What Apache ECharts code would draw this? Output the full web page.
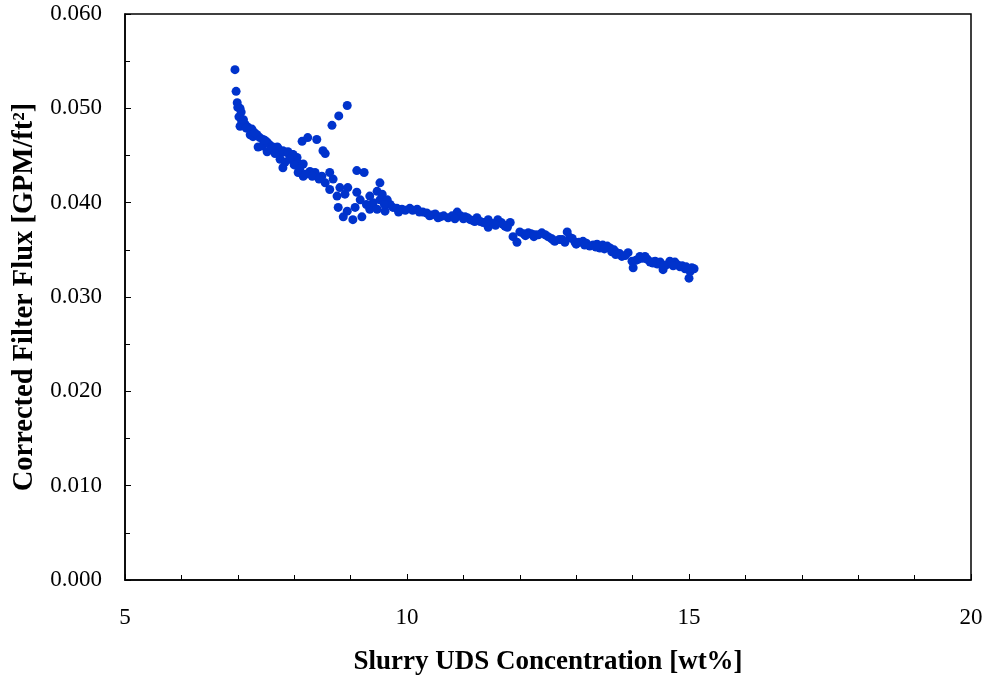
<!DOCTYPE html>
<html>
<head>
<meta charset="utf-8">
<script src="https://cdn.jsdelivr.net/npm/echarts@6/dist/echarts.min.js"></script>
<style>
html,body{margin:0;padding:0;background:#fff;}
#c{width:988px;height:681px;}
</style>
</head>
<body>
<div id="c"></div>
<script>
var xTicks = [5, 10, 15, 20];
var yTicks = [0.000, 0.010, 0.020, 0.030, 0.040, 0.050, 0.060];
var udsConc = [
6.95,6.97,6.99,7.00,7.04,7.06,7.02,7.07,7.04,7.13,7.18,7.25,7.22,7.27,7.34,7.39,7.45,7.36,7.43,7.52,
7.57,7.62,7.71,7.80,7.87,7.96,8.05,7.52,7.70,7.78,7.89,7.98,7.75,7.84,8.05,8.16,7.80,8.07,8.28,8.37,
8.16,8.49,8.63,8.55,8.69,8.63,8.81,8.95,8.76,8.90,9.11,9.17,9.34,9.47,8.78,8.94,9.08,8.87,9.04,9.20,
9.34,9.40,9.52,8.14,8.24,8.40,8.51,8.55,8.67,8.79,8.94,9.11,9.24,9.52,9.56,9.65,9.47,9.61,9.75,9.91,
10.05,10.18,10.28,10.44,10.59,10.73,10.89,11.03,11.12,11.24,11.35,11.44,11.44,11.61,11.74,11.83,11.88,11.95,12.00,12.15,
12.27,12.39,12.50,12.62,12.75,12.84,12.89,12.98,13.12,13.24,13.37,13.42,13.55,13.63,13.72,13.81,13.92,13.99,14.01,14.13,
14.22,14.31,14.40,14.49,14.54,14.66,14.75,14.84,14.93,15.02,15.09,15.00,
10.10,10.35,10.50,10.65,10.80,10.95,11.07,11.17,11.30,11.52,11.67,11.78,12.07,12.20,12.33,12.45,12.56,12.70,12.93,13.05,
13.18,13.30,13.47,13.60,13.67,13.77,13.87,14.06,14.18,14.26,14.36,14.44,14.60,14.70,14.80,14.88,15.05,
7.10,7.15,7.30,7.48,7.60,7.66,7.92,8.00,8.10,8.20,8.32,8.44,9.28,9.70,9.82,9.97,9.85,9.60,
10.22,10.40,10.55,10.85,11.00,11.20,11.40,11.57,11.70,12.10,12.25,12.60,12.80,13.00,13.15,13.35,13.50,13.70,14.10,14.35,14.55,14.72,14.95
];
var filterFlux = [
0.0541,0.0518,0.0506,0.0501,0.0500,0.0496,0.0491,0.0486,0.0481,0.0483,0.0480,0.0478,0.0472,0.0470,0.0472,0.0469,0.0467,0.0459,0.0460,0.0464,
0.0461,0.0459,0.0458,0.0455,0.0453,0.0451,0.0448,0.0454,0.0459,0.0453,0.0454,0.0451,0.0446,0.0443,0.0443,0.0441,0.0437,0.0432,0.0433,0.0432,
0.0428,0.0428,0.0432,0.0421,0.0425,0.0414,0.0416,0.0416,0.0407,0.0409,0.0411,0.0403,0.0407,0.0412,0.0395,0.0391,0.0395,0.0385,0.0382,0.0385,
0.0393,0.0400,0.0403,0.0465,0.0469,0.0467,0.0455,0.0452,0.0482,0.0492,0.0503,0.0434,0.0432,0.0421,0.0409,0.0403,0.0393,0.0391,0.0395,0.0393,
0.0394,0.0393,0.0390,0.0387,0.0385,0.0384,0.0390,0.0385,0.0382,0.0384,0.0379,0.0382,0.0374,0.0382,0.0375,0.0379,0.0364,0.0358,0.0369,0.0368,
0.0366,0.0368,0.0364,0.0359,0.0361,0.0369,0.0363,0.0358,0.0359,0.0354,0.0356,0.0352,0.0354,0.0348,0.0347,0.0343,0.0347,0.0338,0.0331,0.0343,
0.0343,0.0337,0.0338,0.0337,0.0329,0.0338,0.0337,0.0332,0.0330,0.0327,0.0330,0.0320,
0.0392,0.0389,0.0388,0.0386,0.0386,0.0386,0.0384,0.0381,0.0380,0.0378,0.0379,0.0374,0.0367,0.0367,0.0366,0.0366,0.0362,0.0361,0.0362,0.0358,
0.0357,0.0355,0.0355,0.0352,0.0350,0.0346,0.0344,0.0339,0.0341,0.0340,0.0336,0.0335,0.0334,0.0336,0.0334,0.0333,0.0331,
0.0488,0.0479,0.0474,0.0466,0.0457,0.0452,0.0446,0.0440,0.0436,0.0430,0.0428,0.0425,0.0398,0.0398,0.0394,0.0392,0.0390,0.0398,
0.0390,0.0386,0.0384,0.0383,0.0383,0.0380,0.0379,0.0376,0.0377,0.0365,0.0364,0.0360,0.0358,0.0356,0.0355,0.0353,0.0351,0.0345,0.0340,0.0337,0.0333,0.0333,0.0332
];

var pts = udsConc.map(function (x, i) { return [x, filterFlux[i]]; });
var chart = echarts.init(document.getElementById('c'), null, {renderer: 'canvas'});
var serif = '"Liberation Serif", "Times New Roman", serif';
chart.setOption({
  animation: false,
  backgroundColor: '#ffffff',
  grid: {left: 125, right: 17, top: 14, bottom: 101, show: true, borderColor: '#000', borderWidth: 1.5, backgroundColor: 'transparent'},
  xAxis: {
    type: 'value', min: xTicks[0], max: xTicks[xTicks.length - 1], interval: 5,
    name: 'Slurry UDS Concentration [wt%]', nameLocation: 'middle', nameGap: 69,
    nameTextStyle: {fontFamily: serif, fontWeight: 'bold', fontSize: 27, color: '#000'},
    axisLine: {show: true, lineStyle: {color: '#000', width: 1.5}},
    axisTick: {show: true, inside: true, length: 6, lineStyle: {color: '#000', width: 1}},
    minorTick: {show: true, splitNumber: 5, length: 5, lineStyle: {color: '#000', width: 1}},
    axisLabel: {fontFamily: serif, fontSize: 23, color: '#000', margin: 26},
    splitLine: {show: false}
  },
  yAxis: {
    type: 'value', min: yTicks[0], max: yTicks[yTicks.length - 1], interval: 0.01,
    name: 'Corrected Filter Flux [GPM/ft²]', nameLocation: 'middle', nameGap: 83,
    nameTextStyle: {fontFamily: serif, fontWeight: 'bold', fontSize: 28.5, color: '#000'},
    axisLine: {show: true, lineStyle: {color: '#000', width: 1.5}},
    axisTick: {show: true, inside: true, length: 6, lineStyle: {color: '#000', width: 1}},
    minorTick: {show: true, splitNumber: 2, length: 5, lineStyle: {color: '#000', width: 1}},
    axisLabel: {fontFamily: serif, fontSize: 23, color: '#000', margin: 23, formatter: function (v) { return v.toFixed(3); }},
    splitLine: {show: false}
  },
  series: [{
    type: 'scatter', data: pts, symbol: 'circle', symbolSize: 9,
    itemStyle: {color: '#0033CC', opacity: 1}
  }]
});
</script>
</body>
</html>
